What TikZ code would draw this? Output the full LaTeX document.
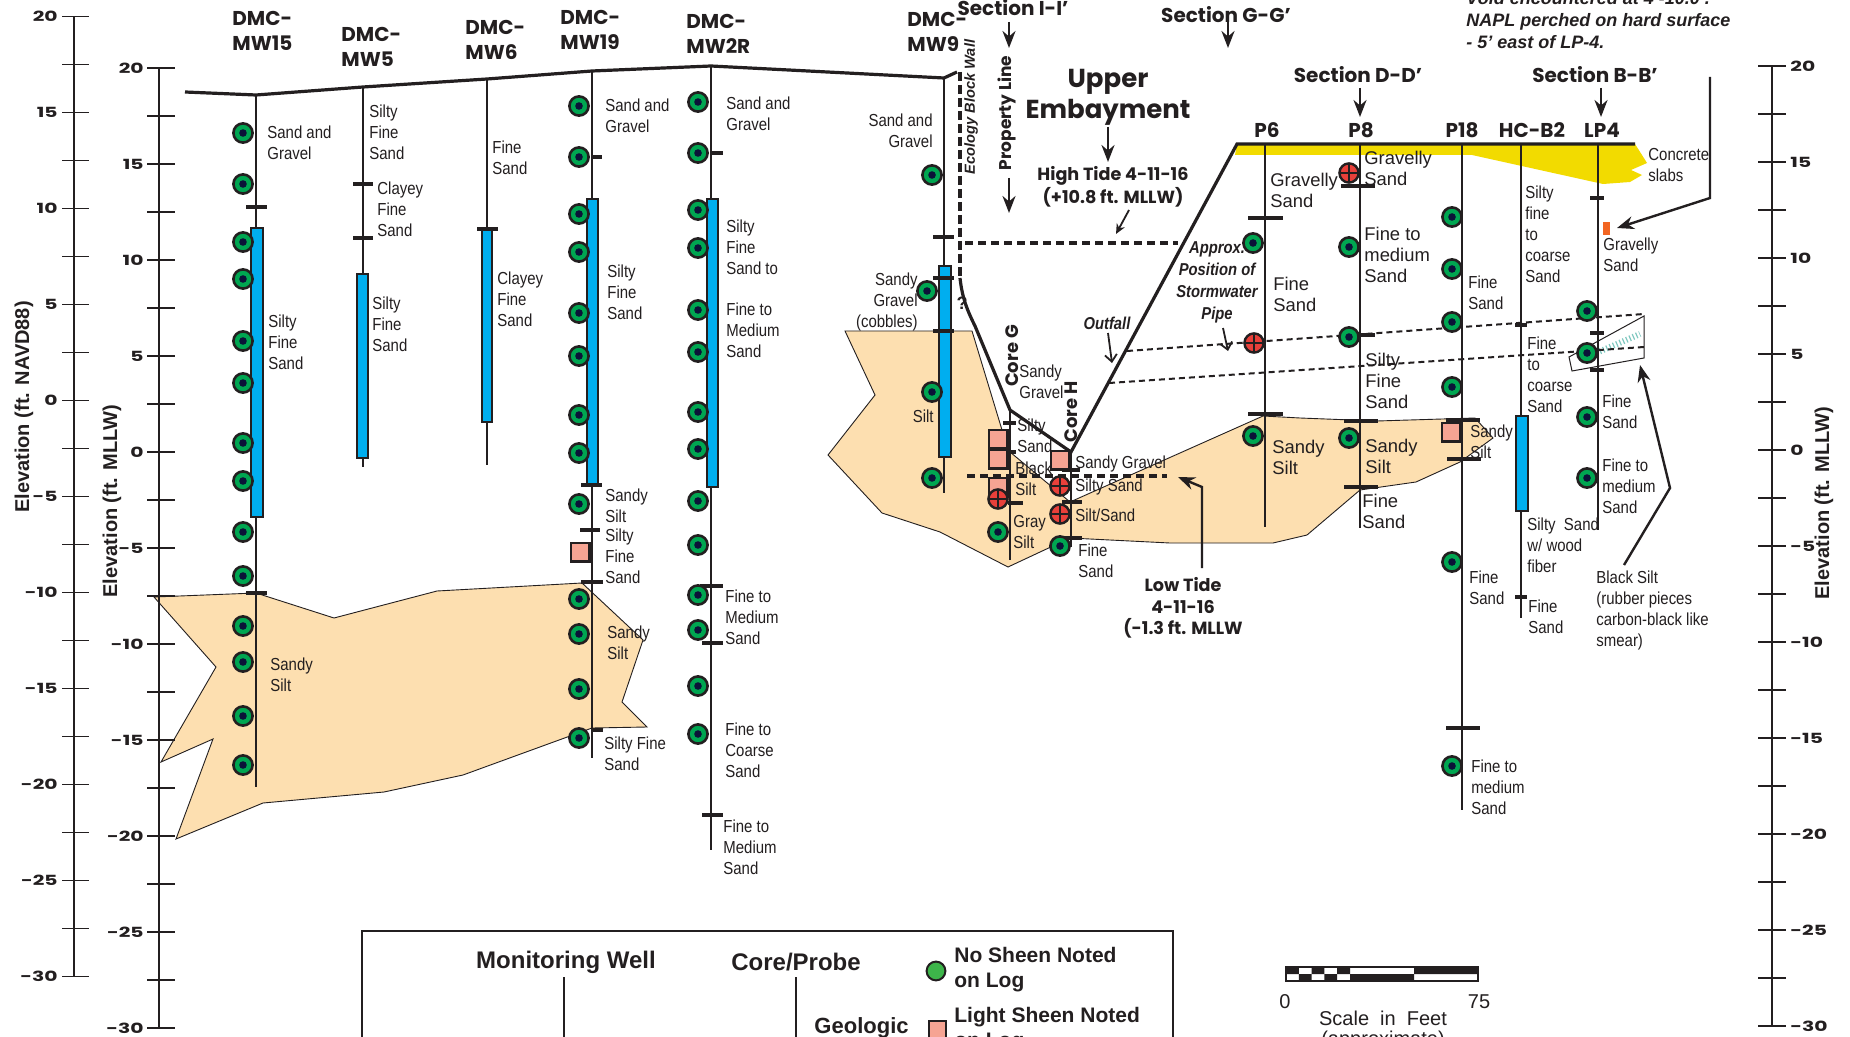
\documentclass[tikz,border=0pt]{standalone}
\usepackage{fontspec}
\setmainfont{Liberation Sans}
\newfontfamily\narrowfont[FakeStretch=0.86]{Liberation Sans}
\newfontfamily\headfont{Poppins}
\newfontfamily\numfont[FakeStretch=1.45]{Poppins}
\usetikzlibrary{arrows.meta}

\definecolor{ink}{HTML}{231F20}
\definecolor{peach}{HTML}{FDDFB0}
\definecolor{screenblue}{HTML}{00AEEF}
\definecolor{wellgreen}{HTML}{00A651}
\definecolor{legendgreen}{HTML}{3DB54A}
\definecolor{navy}{HTML}{0B1238}
\definecolor{sheenpink}{HTML}{F6A493}
\definecolor{sheenred}{HTML}{E8403A}
\definecolor{slabyellow}{HTML}{F2DB00}
\definecolor{voidorange}{HTML}{F26522}
\definecolor{hatchteal}{HTML}{7FC8C0}

\begin{document}
\begin{tikzpicture}[x=0.5pt,y=-0.5pt,
  axisline/.style={ink,line width=1.3pt},
  axtick/.style={ink,line width=0.9pt},
  axnum/.style={font=\numfont\bfseries\fontsize{7}{8}\selectfont,inner sep=0pt,text=ink},
  axtitle/.style={font=\bfseries\fontsize{10}{12}\selectfont,inner sep=0pt,rotate=90,text=ink},
  ground/.style={ink,line width=1.6pt},
  well/.style={ink,line width=1.1pt},
  tk/.style={ink,line width=1.6pt},
  scr/.style={draw=ink,line width=0.9pt,fill=screenblue},
  layer/.style={draw=ink,line width=0.45pt,fill=peach},
  pipe/.style={ink,line width=1pt,dash pattern=on 3pt off 2pt},
  tide/.style={ink,line width=1.7pt,dash pattern=on 4pt off 2.5pt},
  lbl/.style={font=\narrowfont\fontsize{8.7}{10.5}\selectfont,align=left,inner sep=0pt,anchor=west,text=ink},
  lblr/.style={lbl,anchor=east,align=right},
  lblw/.style={lbl,font=\fontsize{9.2}{10.5}\selectfont},
  hdr/.style={font=\headfont\bfseries\fontsize{10}{12.5}\selectfont,align=left,inner sep=0pt,anchor=west,text=ink},
  ttl/.style={font=\headfont\bfseries\fontsize{10}{12}\selectfont,align=center,inner sep=0pt,text=ink},
  note/.style={font=\narrowfont\bfseries\itshape\fontsize{8.6}{11}\selectfont,align=center,inner sep=0pt,text=ink},
  legtxt/.style={font=\bfseries\fontsize{10.5}{12.5}\selectfont,align=left,inner sep=0pt,text=ink},
  arr/.style={ink,line width=1.3pt,-{Stealth[length=8.5pt,width=6.5pt]}},
  thinarr/.style={ink,line width=0.9pt,-{Stealth[length=5pt,width=4.5pt]}},
  barb/.style={ink,line width=0.9pt,-{Straight Barb[length=3.5pt,width=6pt]}},
  nosheen/.pic={\draw[ink,line width=1.3pt,fill=wellgreen] (0,0) circle (4.8pt); \fill[navy] (0,0) circle (1.9pt);},
  light/.pic={\draw[ink,line width=1.1pt,fill=sheenpink] (-4.7pt,-4.7pt) rectangle (4.7pt,4.7pt);},
  heavy/.pic={\draw[ink,line width=1.2pt,fill=sheenred] (0,0) circle (4.8pt); \draw[ink,line width=1pt] (-4.8pt,0) -- (4.8pt,0) (0,-4.8pt) -- (0,4.8pt);},
]
\useasboundingbox (0,0) rectangle (1850,1037);
\clip (0,0) rectangle (1850,1037);
\fill[white] (0,0) rectangle (1850,1037);

% ---------- sandy silt layers ----------
\filldraw[layer] (154,597) -- (256,593) -- (334,618) -- (437,591) -- (582,583) -- (643,640) -- (622,702) -- (647,727) -- (592,728) -- (463,775) -- (384,792) -- (263,803) -- (176,839) -- (213,739) -- (161,762) -- (216,667) -- cycle;
\filldraw[layer] (845,331) -- (972,331) -- (1002,430) -- (1010,452) -- (1070,502) -- (1263,416) -- (1300,418) -- (1377,421) -- (1475,418) -- (1493,438) -- (1460,462) -- (1416,482) -- (1360,490) -- (1307,535) -- (1273,543) -- (1170,543) -- (1070,538) -- (1008,567) -- (940,532) -- (882,513) -- (828,455) -- (875,395) -- cycle;

% ---------- concrete slabs ----------
\fill[slabyellow] (1237,144) -- (1635,144) -- (1647,163) -- (1631,170) -- (1642,175) -- (1630,182) -- (1603,184) -- (1472,155) -- (1235,155) -- cycle;

% ---------- black silt lens at LP4 ----------
\draw[ink,line width=0.5pt,fill=white] (1569,357) -- (1644,316) -- (1644,358) -- (1572,371) -- cycle;
\draw[hatchteal,line width=3pt,dash pattern=on 0.6pt off 1.2pt] (1580,360) -- (1640,334);

% ---------- elevation axes ----------
\draw[axisline] (74,16.5) -- (74,976);
\foreach \i in {0,...,20} \draw[axtick] (62,{16.5+48*\i}) -- (89,{16.5+48*\i});
\foreach \v [count=\k from 0] in {20,15,...,-30} \node[axnum,anchor=east] (na-\k) at (58,{16.5+96*\k}) {\v};
\draw[axisline] (159,68) -- (159,1028);
\foreach \i in {0,...,20} \draw[axtick] (147,{68+48*\i}) -- (175,{68+48*\i});
\foreach \v [count=\k from 0] in {20,15,...,-30} \node[axnum,anchor=east] (ml-\k) at (144,{68+96*\k}) {\v};
\draw[axisline] (1772,66) -- (1772,1026);
\foreach \i in {0,...,20} \draw[axtick] (1758,{66+48*\i}) -- (1786,{66+48*\i});
\foreach \v [count=\k from 0] in {20,15,...,-30} \node[axnum,anchor=west] (mr-\k) at (1790,{66+96*\k}) {\v};
\node[axtitle] (tNAVD) at (24,407) {Elevation (ft. NAVD88)};
\node[axtitle] (tMLLWl) at (112,501) {Elevation (ft. MLLW)};
\node[axtitle] (tMLLWr) at (1824,503) {Elevation (ft. MLLW)};

% ---------- ground surface, wall and embayment ----------
\draw[ground] (185,92) -- (256,95) -- (363,87) -- (487,79) -- (592,71) -- (711,66) -- (944,78) -- (957,72);
\draw[ink,line width=1.6pt,dash pattern=on 4.5pt off 2pt] (960,72) -- (960,278);
\draw[ground] (960,278) .. controls (962,296) and (966,308) .. (975,326) -- (1010,410) -- (1071,452) -- (1237,144) -- (1635,144);

% ---------- tide levels and stormwater pipe ----------
\draw[tide] (965,243) -- (1178,243);
\draw[tide] (967,476) -- (1167,476);
\draw[pipe] (1127,351) -- (1644,314);
\draw[pipe] (1109,383) -- (1644,347);

% ---------- monitoring wells ----------
\draw[well] (256,95) -- (256,787);
\draw[scr] (251,228) rectangle (263,517);
\draw[tk] (246,207) -- (267,207); \draw[tk] (246,593) -- (267,593);
\foreach \y in {133,184,242,279,341,383,443,481,532,576,626,662,716,765} \path (243,\y) pic {nosheen};

\draw[well] (363,87) -- (363,467);
\draw[scr] (357,274) rectangle (368,458);
\draw[tk] (353,184) -- (373,184); \draw[tk] (353,238) -- (373,238);

\draw[well] (487,79) -- (487,465);
\draw[scr] (482,229) rectangle (492,422);
\draw[tk] (477,229) -- (498,229);

\draw[well] (592,71) -- (592,758);
\draw[scr] (587,199) rectangle (598,485);
\draw[tk] (592,157) -- (602,157); \draw[tk] (581,485) -- (602,485); \draw[tk] (580,530) -- (600,530);
\draw[tk] (581,582) -- (603,582); \draw[tk] (592,730) -- (603,730);
\foreach \y in {106,157,214,252,313,356,415,453,504,599,634,689,738} \path (579,\y) pic {nosheen};
\path (580,552) pic {light};

\draw[well] (711,66) -- (711,850);
\draw[scr] (707,199) rectangle (718,487);
\draw[tk] (711,153) -- (723,153); \draw[tk] (700,586) -- (723,586); \draw[tk] (702,643) -- (723,643); \draw[tk] (702,815) -- (723,815);
\foreach \y in {102,153,210,248,310,352,412,449,501,545,595,630,686,734} \path (698,\y) pic {nosheen};

\draw[well] (944,78) -- (944,493);
\draw[scr] (939,266) rectangle (951,457);
\draw[tk] (933,237) -- (954,237); \draw[tk] (933,278) -- (954,278); \draw[tk] (933,331) -- (954,331);
\foreach \p in {(932,175),(927,291),(932,392),(932,478)} \path \p pic {nosheen};

% ---------- cores and probes ----------
\draw[well] (1010,410) -- (1010,560);
\draw[tk] (1003,423) -- (1016,423); \draw[tk] (1006,452) -- (1016,452); \draw[tk] (1008,503) -- (1023,503);
\foreach \y in {439,459,487} \path (998,\y) pic {light};
\path (998,499) pic {heavy};
\path (998,532) pic {nosheen};

\draw[well] (1071,452) -- (1071,547);
\draw[tk] (1062,470) -- (1080,470); \draw[tk] (1062,502) -- (1082,502); \draw[tk] (1062,538) -- (1082,538);
\path (1060,460) pic {light};
\path (1060,486) pic {heavy}; \path (1060,514) pic {heavy};
\path (1060,546) pic {nosheen};

\draw[well] (1265,144) -- (1265,527);
\draw[tk] (1248,218) -- (1283,218); \draw[tk] (1248,414) -- (1283,414);
\path (1253,243) pic {nosheen}; \path (1253,436) pic {nosheen};
\path (1254,343) pic {heavy};

\draw[well] (1360,144) -- (1360,528);
\draw[tk] (1341,186) -- (1375,186); \draw[tk] (1360,335) -- (1375,335); \draw[tk] (1344,421) -- (1378,421); \draw[tk] (1344,487) -- (1378,487);
\path (1349,173) pic {heavy};
\foreach \y in {247,337,438} \path (1349,\y) pic {nosheen};

\draw[well] (1462,144) -- (1462,810);
\draw[tk] (1446,420) -- (1480,420); \draw[tk] (1447,459) -- (1481,459); \draw[tk] (1446,728) -- (1480,728);
\foreach \y in {217,269,322,387,562,766} \path (1452,\y) pic {nosheen};
\path (1451,432) pic {light};

\draw[well] (1521,144) -- (1521,618);
\draw[scr] (1516,416) rectangle (1528,511);
\draw[tk] (1515,325) -- (1527,325); \draw[tk] (1515,597) -- (1527,597);

\draw[well] (1598,144) -- (1598,530);
\draw[tk] (1590,198) -- (1604,198); \draw[tk] (1590,333) -- (1604,333); \draw[tk] (1590,370) -- (1604,370);
\foreach \y in {311,353,417,478} \path (1587,\y) pic {nosheen};
\fill[voidorange] (1603,222) rectangle (1610,235);

% ---------- boring names ----------
\node[hdr] (hMW15) at (232,31) {DMC-\\MW15};
\node[hdr] (hMW5) at (341,47) {DMC-\\MW5};
\node[hdr] (hMW6) at (465,40) {DMC-\\MW6};
\node[hdr] (hMW19) at (560,30) {DMC-\\MW19};
\node[hdr] (hMW2R) at (686,34) {DMC-\\MW2R};
\node[hdr] (hMW9) at (907,32) {DMC-\\MW9};
\node[ttl] (hP6) at (1267,130) {P6};
\node[ttl] (hP8) at (1361,130) {P8};
\node[ttl] (hP18) at (1462,130) {P18};
\node[ttl] (hHC) at (1532,130) {HC-B2};
\node[ttl] (hLP4) at (1602,130) {LP4};

% ---------- soil descriptions ----------
\node[lbl] (a1) at (267,143) {Sand and\\Gravel};
\node[lbl] (a2) at (268,342) {Silty\\Fine\\Sand};
\node[lbl] (a3) at (270,675) {Sandy\\Silt};
\node[lbl] (b1) at (369,132) {Silty\\Fine\\Sand};
\node[lbl] (b2) at (377,209) {Clayey\\Fine\\Sand};
\node[lbl] (b3) at (372,324) {Silty\\Fine\\Sand};
\node[lbl] (c1) at (492,158) {Fine\\Sand};
\node[lbl] (c2) at (497,299) {Clayey\\Fine\\Sand};
\node[lbl] (d1) at (605,116) {Sand and\\Gravel};
\node[lbl] (d2) at (607,292) {Silty\\Fine\\Sand};
\node[lbl] (d3) at (605,506) {Sandy\\Silt};
\node[lbl] (d4) at (605,556) {Silty\\Fine\\Sand};
\node[lbl] (d5) at (607,643) {Sandy\\Silt};
\node[lbl] (d6) at (604,754) {Silty Fine\\Sand};
\node[lbl] (e1) at (726,114) {Sand and\\Gravel};
\node[lbl] (e2) at (726,247) {Silty\\Fine\\Sand to};
\node[lbl] (e3) at (726,330) {Fine to\\Medium\\Sand};
\node[lbl] (e4) at (725,617) {Fine to\\Medium\\Sand};
\node[lbl] (e5) at (725,750) {Fine to\\Coarse\\Sand};
\node[lbl] (e6) at (723,847) {Fine to\\Medium\\Sand};
\node[lblr] (f1) at (933,131) {Sand and\\Gravel};
\node[lblr] (f2) at (918,302) {Sandy\\Gravel\\(cobbles)};
\node[lblr] (f3) at (934,416) {Silt};
\node[lbl] (g1) at (1019,382) {Sandy\\Gravel};
\node[lbl] (g2) at (1017,436) {Silty\\Sand};
\node[lbl] (g3) at (1015,479) {Black\\Silt};
\node[lbl] (g4) at (1013,532) {Gray\\Silt};
\node[lbl] (k1) at (1075,464) {Sandy Gravel};
\node[lbl] (k2) at (1075,487) {Silty Sand};
\node[lbl] (k3) at (1075,515) {Silt/Sand};
\node[lbl] (k4) at (1078,561) {Fine\\Sand};
\node[lblw] (p1) at (1270,190) {Gravelly\\Sand};
\node[lblw] (p2) at (1273,294) {Fine\\Sand};
\node[lblw] (p3) at (1272,457) {Sandy\\Silt};
\node[lblw] (q1) at (1364,168) {Gravelly\\Sand};
\node[lblw] (q2) at (1364,255) {Fine to\\medium\\Sand};
\node[lblw] (q3) at (1365,381) {Silty\\Fine\\Sand};
\node[lblw] (q4) at (1365,456) {Sandy\\Silt};
\node[lblw] (q5) at (1362,511) {Fine\\Sand};
\node[lbl] (r1) at (1468,293) {Fine\\Sand};
\node[lbl] (r2) at (1470,442) {Sandy\\Silt};
\node[lbl] (r3) at (1469,588) {Fine\\Sand};
\node[lbl] (r4) at (1471,787) {Fine to\\medium\\Sand};
\node[lbl] (s1) at (1525,234) {Silty\\fine\\to\\coarse\\Sand};
\node[lbl] (s2) at (1527,375) {Fine\\to\\coarse\\Sand};
\node[lbl] (s3) at (1527,545) {Silty~~Sand\\w/ wood\\fiber};
\node[lbl] (s4) at (1528,617) {Fine\\Sand};
\node[lbl] (u1) at (1603,255) {Gravelly\\Sand};
\node[lbl] (u2) at (1602,412) {Fine\\Sand};
\node[lbl] (u3) at (1602,486) {Fine to\\medium\\Sand};
\node[lbl] (u4) at (1596,610) {Black Silt\\(rubber pieces\\carbon-black like\\smear)};
\node[lbl] (u5) at (1648,165) {Concrete\\slabs};

% ---------- site annotations ----------
\node[ttl] (secI) at (1013,8) {Section I-I’};
\node[ttl] (secG) at (1226,15) {Section G-G’};
\node[ttl] (secD) at (1358,75) {Section D-D’};
\node[ttl] (secB) at (1595,75) {Section B-B’};
\node[ttl,font=\headfont\bfseries\fontsize{13}{15.5}\selectfont] (emb) at (1108,97) {Upper\\Embayment};
\node[ttl,font=\headfont\bfseries\fontsize{8.8}{11.5}\selectfont] (hitide) at (1113,187) {High Tide 4-11-16\\(+10.8 ft. MLLW)};
\node[ttl,font=\headfont\bfseries\fontsize{8.8}{10.75}\selectfont] (lotide) at (1183,608) {Low Tide\\4-11-16\\(-1.3 ft. MLLW};
\node[ttl,rotate=90,font=\headfont\bfseries\fontsize{8.5}{10}\selectfont] (prop) at (1007,113) {Property Line};
\node[ttl,rotate=90,font=\headfont\bfseries\fontsize{9}{10}\selectfont] (coreG) at (1012,356) {Core G};
\node[ttl,rotate=90,font=\headfont\bfseries\fontsize{9}{10}\selectfont] (coreH) at (1071,412) {Core H};
\node[rotate=90,inner sep=0pt,text=ink,font=\bfseries\itshape\fontsize{7.3}{9}\selectfont] (wall) at (971,107) {Ecology Block Wall};
\node[inner sep=0pt,text=ink,font=\bfseries\fontsize{9}{10}\selectfont] (qm) at (962,303) {?};
\node[note] (storm) at (1217,282) {Approx.\\Position of\\Stormwater\\Pipe};
\node[note] (outf) at (1107,323) {Outfall};
\node[inner sep=0pt,anchor=west,align=left,text=ink,font=\bfseries\itshape\fontsize{9}{11}\selectfont] (voidn) at (1466,20) {Void encountered at 4’-10.0’.\\NAPL perched on hard surface\\- 5’ east of LP-4.};

\coordinate (aI1) at (1009,22); \coordinate (aI2) at (1009,48);
\coordinate (aP1) at (1009,178); \coordinate (aP2) at (1009,213);
\coordinate (aG1) at (1228,22); \coordinate (aG2) at (1228,48);
\coordinate (aE1) at (1108,127); \coordinate (aE2) at (1108,162);
\coordinate (aD1) at (1360,88); \coordinate (aD2) at (1360,117);
\coordinate (aB1) at (1601,88); \coordinate (aB2) at (1601,117);
\coordinate (aH1) at (1129,210); \coordinate (aH2) at (1116,234);
\coordinate (aO1) at (1108,333); \coordinate (aO2) at (1112,363);
\coordinate (aS1) at (1223,328); \coordinate (aS2) at (1228,351);
\draw[arr] (aI1) -- (aI2);
\draw[arr] (aP1) -- (aP2);
\draw[arr] (aG1) -- (aG2);
\draw[arr] (aE1) -- (aE2);
\draw[arr] (aD1) -- (aD2);
\draw[arr] (aB1) -- (aB2);
\draw[thinarr] (aH1) -- (aH2);
\draw[barb] (aO1) -- (aO2);
\draw[barb] (aS1) -- (aS2);
\draw[arr,line width=1.2pt] (1710,77) -- (1710,198) -- (1617,228);
\draw[arr,line width=1.2pt] (1624,565) -- (1670,488) -- (1640,365);
\draw[arr,line width=1.2pt] (1202,568) -- (1202,487) -- (1178,477);

% ---------- legend ----------
\draw[ink,line width=1.4pt] (362,931) rectangle (1173,1090);
\node[legtxt,font=\bfseries\fontsize{12}{14}\selectfont] (lgMW) at (566,962) {Monitoring Well};
\draw[well] (564,977) -- (564,1045);
\node[legtxt,font=\bfseries\fontsize{12}{14}\selectfont] (lgCP) at (796,962) {Core/Probe};
\draw[well] (796,977) -- (796,1045);
\draw[ink,line width=1pt,fill=legendgreen] (936,971) circle (4.7pt);
\node[legtxt,anchor=west] (lgNo) at (954,970) {No Sheen Noted\\on Log};
\draw[ink,line width=1pt,fill=sheenpink] (929,1021) rectangle (946,1045);
\node[legtxt,anchor=west] (lgLi) at (954,1017) {Light Sheen Noted};
\node[legtxt,anchor=west] (lgLi2) at (954,1042) {on Log};
\node[legtxt,anchor=east,font=\bfseries\fontsize{11}{13}\selectfont] (lgGe) at (909,1028) {Geologic};

% ---------- scale bar ----------
\fill[ink] (1286,967) rectangle (1298.8,974) (1311.6,967) rectangle (1324.4,974) (1337.2,967) rectangle (1350,974) (1414,967) rectangle (1478,974);
\fill[ink] (1298.8,974) rectangle (1311.6,981) (1324.4,974) rectangle (1337.2,981) (1350,974) rectangle (1414,981);
\draw[ink,line width=0.8pt] (1286,967) rectangle (1478,981);
\node[inner sep=0pt,text=ink,font=\fontsize{10}{12}\selectfont] (sc0) at (1285,1002) {0};
\node[inner sep=0pt,text=ink,font=\fontsize{10}{12}\selectfont] (sc75) at (1479,1002) {75};
\node[inner sep=0pt,text=ink,font=\fontsize{10}{12}\selectfont] (scT) at (1383,1018) {Scale~ in~ Feet};
\node[inner sep=0pt,text=ink,font=\fontsize{10}{12}\selectfont] (scA) at (1383,1040) {(approximate)};
\end{tikzpicture}
\end{document}
